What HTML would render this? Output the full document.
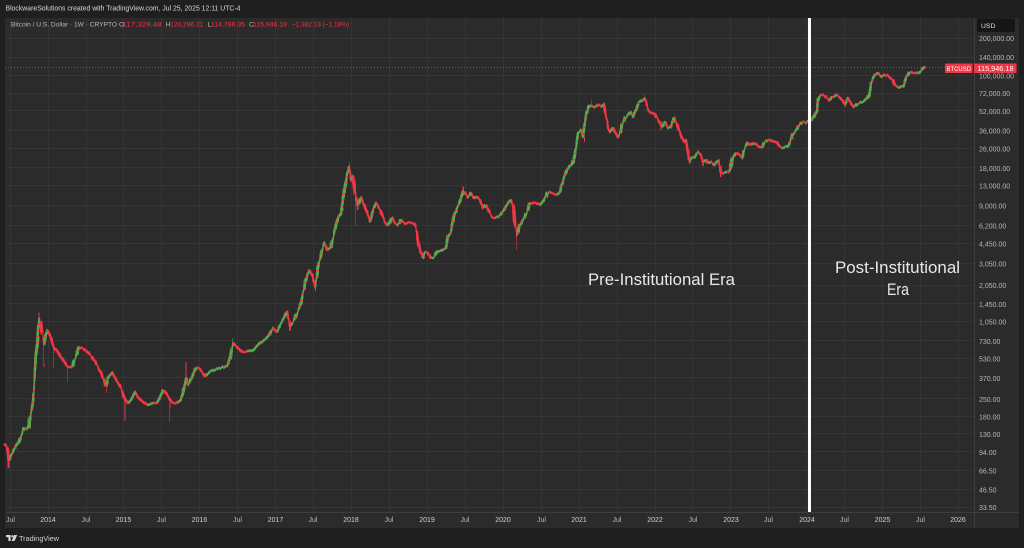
<!DOCTYPE html>
<html><head><meta charset="utf-8">
<style>
html,body{margin:0;padding:0;background:#1f1f1f;width:1024px;height:548px;overflow:hidden}
svg{display:block}
</style></head>
<body>
<svg width="1024" height="548" viewBox="0 0 1024 548" xmlns="http://www.w3.org/2000/svg" font-family="'Liberation Sans', sans-serif">
<defs>
<filter id="jag" filterUnits="userSpaceOnUse" x="0" y="0" width="1024" height="548">
<feTurbulence type="fractalNoise" baseFrequency="0.55 0.015" numOctaves="1" seed="3" result="n"/>
<feDisplacementMap in="SourceGraphic" in2="n" scale="3.5" xChannelSelector="R" yChannelSelector="G"/>
</filter>
</defs>
<rect width="1024" height="548" fill="#1f1f1f"/>
<rect x="5" y="18" width="1014" height="510" fill="#2b2b2b"/>
<g stroke="#353535" stroke-width="1">
<line x1="5" x2="974" y1="38.5" y2="38.5"/><line x1="5" x2="974" y1="57.5" y2="57.5"/><line x1="5" x2="974" y1="75.5" y2="75.5"/><line x1="5" x2="974" y1="93.5" y2="93.5"/><line x1="5" x2="974" y1="110.5" y2="110.5"/><line x1="5" x2="974" y1="130.5" y2="130.5"/><line x1="5" x2="974" y1="148.5" y2="148.5"/><line x1="5" x2="974" y1="167.5" y2="167.5"/><line x1="5" x2="974" y1="185.5" y2="185.5"/><line x1="5" x2="974" y1="205.5" y2="205.5"/><line x1="5" x2="974" y1="225.5" y2="225.5"/><line x1="5" x2="974" y1="243.5" y2="243.5"/><line x1="5" x2="974" y1="263.5" y2="263.5"/><line x1="5" x2="974" y1="285.5" y2="285.5"/><line x1="5" x2="974" y1="303.5" y2="303.5"/><line x1="5" x2="974" y1="321.5" y2="321.5"/><line x1="5" x2="974" y1="340.5" y2="340.5"/><line x1="5" x2="974" y1="358.5" y2="358.5"/><line x1="5" x2="974" y1="377.5" y2="377.5"/><line x1="5" x2="974" y1="398.5" y2="398.5"/><line x1="5" x2="974" y1="416.5" y2="416.5"/><line x1="5" x2="974" y1="433.5" y2="433.5"/><line x1="5" x2="974" y1="451.5" y2="451.5"/><line x1="5" x2="974" y1="470.5" y2="470.5"/><line x1="5" x2="974" y1="489.5" y2="489.5"/><line x1="5" x2="974" y1="507.5" y2="507.5"/>
<line y1="18" y2="512" x1="10.5" x2="10.5"/><line y1="18" y2="512" x1="48.5" x2="48.5"/><line y1="18" y2="512" x1="86.5" x2="86.5"/><line y1="18" y2="512" x1="123.5" x2="123.5"/><line y1="18" y2="512" x1="161.5" x2="161.5"/><line y1="18" y2="512" x1="199.5" x2="199.5"/><line y1="18" y2="512" x1="237.5" x2="237.5"/><line y1="18" y2="512" x1="275.5" x2="275.5"/><line y1="18" y2="512" x1="313.5" x2="313.5"/><line y1="18" y2="512" x1="351.5" x2="351.5"/><line y1="18" y2="512" x1="389.5" x2="389.5"/><line y1="18" y2="512" x1="427.5" x2="427.5"/><line y1="18" y2="512" x1="465.5" x2="465.5"/><line y1="18" y2="512" x1="503.5" x2="503.5"/><line y1="18" y2="512" x1="541.5" x2="541.5"/><line y1="18" y2="512" x1="579.5" x2="579.5"/><line y1="18" y2="512" x1="617.5" x2="617.5"/><line y1="18" y2="512" x1="655.5" x2="655.5"/><line y1="18" y2="512" x1="692.5" x2="692.5"/><line y1="18" y2="512" x1="730.5" x2="730.5"/><line y1="18" y2="512" x1="768.5" x2="768.5"/><line y1="18" y2="512" x1="806.5" x2="806.5"/><line y1="18" y2="512" x1="844.5" x2="844.5"/><line y1="18" y2="512" x1="882.5" x2="882.5"/><line y1="18" y2="512" x1="920.5" x2="920.5"/><line y1="18" y2="512" x1="958.5" x2="958.5"/>
</g>
<line x1="974.5" y1="18" x2="974.5" y2="528" stroke="#3d3d3d"/>
<line x1="5" y1="512.5" x2="1019" y2="512.5" stroke="#3d3d3d"/>
<line x1="5" y1="67.5" x2="974" y2="67.5" stroke="#f23645" stroke-width="1" stroke-dasharray="1 2" opacity="0.75"/>

<!-- price series -->
<g fill="none" stroke-linejoin="round" stroke-linecap="butt" filter="url(#jag)">
<path stroke="#f23645" stroke-width="1" d="M9 458V468M39 313V322M44 343V367M54 346V367M67 365V382M106 384V393M125 397V420M170 398V422M186 362V380M290 324V331M315 285V291M349 162V168M355 190V227M463 186V193M517 233V250M591 99V106M644 94V100M688 151V160M721 170V177M358 203V210M419 245V252M584 136V142M661 121V130M703 160V166"/>
<path stroke="#4caf50" stroke-width="1" d="M35 360V372M233 338V346M305 280V290M344 188V196M576 142V150M818 96V104M871 80V88"/>
<path id="base" stroke="#f23645" stroke-width="2.5" d="M5 444L7 447L9 460L11 455L13 452L16 446L19 442L21 437L24 428L27 430L29 427L31 413L33 402L34 388L35 368L37 347L38 330L39 318L41 325L42 330L44 345L47 330L50 335L54 348L57 350L60 355L64 362L67 367L72 367L76 357L79 347L84 349L89 353L93 358L97 365L101 372L104 380L106 386L108 377L112 373L115 378L118 383L121 388L125 399L128 403L131 400L135 392L138 397L143 402L147 405L153 403L157 403L160 397L163 390L166 393L170 400L173 403L177 403L181 400L184 389L186 378L188 385L192 377L195 368L199 368L205 376L210 372L220 368L228 366L231 355L233 343L237 347L242 352L247 352L253 350L260 343L267 338L273 328L277 332L280 325L283 320L287 312L290 326L293 322L297 313L301 303L305 283L309 270L312 275L315 287L318 268L321 253L324 243L327 250L331 247L335 230L338 218L341 213L344 193L347 172L349 166L351 180L353 176L355 192L358 205L361 197L364 205L367 213L370 222L373 210L376 203L380 210L385 222L388 225L392 217L395 223L398 225L401 220L405 223L410 223L415 225L417 233L419 247L421 253L423 258L425 252L428 253L431 258L434 257L437 252L442 250L446 248L448 236L451 233L454 217L457 208L460 202L463 191L465 193L468 197L471 193L474 198L477 197L480 200L483 208L486 205L489 212L492 217L495 218L498 217L502 213L505 208L508 203L511 200L513 205L515 220L517 235L520 225L523 220L527 212L530 203L533 203L537 203L540 205L544 200L548 192L552 193L557 195L560 192L565 175L569 167L573 163L576 147L578 133L581 130L583 137L585 120L588 107L591 105L594 107L598 105L601 107L604 105L606 115L608 127L610 132L613 128L615 132L618 137L620 133L622 125L625 118L628 115L631 112L633 117L636 110L639 102L642 100L644 98L646 102L648 110L651 113L654 113L657 118L660 123L662 127L665 122L668 128L671 127L674 118L676 122L679 130L682 138L684 142L686 140L688 153L690 162L692 158L695 157L698 152L701 155L703 162L706 160L708 163L711 162L714 165L716 162L719 160L721 172L724 173L727 172L730 172L733 157L736 153L739 155L742 158L745 148L748 143L751 145L754 143L757 145L759 147L762 148L765 142L768 140L771 140L774 142L777 142L779 146L782 148L785 147L788 146L790 142L792 135L795 132L798 127L801 123L803 122L806 123L809 121L812 120L815 115L817 110L818 99L820 95L823 95L826 97L829 100L831 97L834 97L836 95L839 97L842 100L845 105L848 98L851 103L854 107L857 104L860 103L863 102L866 100L869 96L871 84L873 78L875 75L878 73L881 77L884 75L887 75L890 78L893 80L895 86L898 87L901 87L904 86L906 78L909 73L912 72L915 73L918 73L920 72L923 68L925 67"/>
<path id="up" stroke="#4caf50" stroke-width="2.5" d="M9 460L11 455L13 452L16 446L19 442L21 437L24 428M27 430L29 427L31 413L33 402L34 388L35 368L37 347L38 330L39 318M44 345L47 330M72 367L76 357L79 347M106 386L108 377L112 373M128 403L131 400L135 392M147 405L153 403M157 403L160 397L163 390M177 403L181 400L184 389L186 378M188 385L192 377L195 368M205 376L210 372L220 368L228 366L231 355L233 343M247 352L253 350L260 343L267 338L273 328M277 332L280 325L283 320L287 312M290 326L293 322L297 313L301 303L305 283L309 270M315 287L318 268L321 253L324 243M327 250L331 247L335 230L338 218L341 213L344 193L347 172L349 166M351 180L353 176M358 205L361 197M370 222L373 210L376 203M388 225L392 217M398 225L401 220M423 258L425 252M431 258L434 257L437 252L442 250L446 248L448 236L451 233L454 217L457 208L460 202L463 191M468 197L471 193M474 198L477 197M483 208L486 205M495 218L498 217L502 213L505 208L508 203L511 200M517 235L520 225L523 220L527 212L530 203M540 205L544 200L548 192M557 195L560 192L565 175L569 167L573 163L576 147L578 133L581 130M583 137L585 120L588 107L591 105M594 107L598 105M601 107L604 105M610 132L613 128M618 137L620 133L622 125L625 118L628 115L631 112M633 117L636 110L639 102L642 100L644 98M662 127L665 122M668 128L671 127L674 118M684 142L686 140M690 162L692 158L695 157L698 152M703 162L706 160M708 163L711 162M714 165L716 162L719 160M724 173L727 172M730 172L733 157L736 153M742 158L745 148L748 143M751 145L754 143M762 148L765 142L768 140M782 148L785 147L788 146L790 142L792 135L795 132L798 127L801 123L803 122M806 123L809 121L812 120L815 115L817 110L818 99L820 95M829 100L831 97M834 97L836 95M845 105L848 98M854 107L857 104L860 103L863 102L866 100L869 96L871 84L873 78L875 75L878 73M881 77L884 75M898 87L901 87L904 86L906 78L909 73L912 72M918 73L920 72L923 68L925 66.5"/>
<use href="#base" stroke="#4caf50" stroke-width="2.5" stroke-dasharray="1.3 4.7" fill="none"/>
<use href="#up" stroke="#f23645" stroke-width="2.5" stroke-dasharray="1.2 5.3" stroke-dashoffset="2" fill="none"/>
</g>
<path stroke="#f23645" stroke-width="1.6" fill="none" d="M925 66V68.5"/>

<rect x="808" y="18" width="3" height="494" fill="#ffffff"/>

<!-- header -->
<text x="5.5" y="10.5" font-size="7" fill="#d8d8d8" textLength="235" lengthAdjust="spacingAndGlyphs">BlockwareSolutions created with TradingView.com, Jul 25, 2025 12:11 UTC-4</text>
<g font-size="6.8">
<text x="11" y="26.5" fill="#b8b8b8" textLength="106" lengthAdjust="spacingAndGlyphs">Bitcoin / U.S. Dollar · 1W · CRYPTO</text>
<text x="119" y="26.5" fill="#b8b8b8">O</text>
<text x="122.5" y="26.5" fill="#f23645" textLength="39" lengthAdjust="spacingAndGlyphs">117,329.48</text>
<text x="165.5" y="26.5" fill="#b8b8b8">H</text>
<text x="170" y="26.5" fill="#f23645" textLength="33.5" lengthAdjust="spacingAndGlyphs">120,296.21</text>
<text x="207.5" y="26.5" fill="#b8b8b8">L</text>
<text x="211" y="26.5" fill="#f23645" textLength="34" lengthAdjust="spacingAndGlyphs">114,786.35</text>
<text x="249" y="26.5" fill="#b8b8b8">C</text>
<text x="253" y="26.5" fill="#f23645" textLength="34" lengthAdjust="spacingAndGlyphs">115,946.18</text>
<text x="292" y="26.5" fill="#f23645" textLength="57" lengthAdjust="spacingAndGlyphs">−1,382.13 (−1.18%)</text>
</g>

<!-- annotations -->
<text x="588" y="285" font-size="16.5" fill="#e8e8e8" textLength="147" lengthAdjust="spacingAndGlyphs">Pre-Institutional Era</text>
<text x="835" y="273" font-size="16.5" fill="#e8e8e8" textLength="125" lengthAdjust="spacingAndGlyphs">Post-Institutional</text>
<text x="887" y="295" font-size="16.5" fill="#e8e8e8" textLength="22" lengthAdjust="spacingAndGlyphs">Era</text>

<!-- right axis -->
<g font-size="7" fill="#b8b8b8">
<text x="979" y="41">200,000.00</text>
<text x="979" y="60">140,000.00</text>
<text x="979" y="78.5">100,000.00</text>
<text x="979" y="96">72,000.00</text>
<text x="979" y="114">52,000.00</text>
<text x="979" y="133.5">36,000.00</text>
<text x="979" y="151.5">26,000.00</text>
<text x="979" y="171">18,000.00</text>
<text x="979" y="188.5">13,000.00</text>
<text x="979" y="208.5">9,000.00</text>
<text x="979" y="228.5">6,200.00</text>
<text x="979" y="246.5">4,450.00</text>
<text x="979" y="266.5">3,050.00</text>
<text x="979" y="288">2,050.00</text>
<text x="979" y="307">1,450.00</text>
<text x="979" y="324.5">1,050.00</text>
<text x="979" y="344">730.00</text>
<text x="979" y="361.5">530.00</text>
<text x="979" y="381">370.00</text>
<text x="979" y="402">250.00</text>
<text x="979" y="419.5">180.00</text>
<text x="979" y="437">130.00</text>
<text x="979" y="455">94.00</text>
<text x="979" y="473.5">66.50</text>
<text x="979" y="492.5">46.50</text>
<text x="979" y="510">33.50</text>
</g>
<rect x="977" y="18.5" width="38" height="13.5" rx="2" fill="#161616"/>
<text x="981" y="28" font-size="6.8" fill="#e0e0e0">USD</text>
<rect x="945" y="63.5" width="27.5" height="9.5" fill="#f23645"/>
<text x="946.5" y="71" font-size="6.6" fill="#ffffff" textLength="24.5" lengthAdjust="spacingAndGlyphs">BTCUSD</text>
<rect x="974" y="63.5" width="42.5" height="9.5" fill="#f23645"/>
<text x="977.5" y="71" font-size="7" fill="#ffffff" textLength="36" lengthAdjust="spacingAndGlyphs">115,946.18</text>

<!-- bottom axis -->
<svg x="5" y="512" width="969" height="16" overflow="hidden">
<g font-size="7" text-anchor="middle" transform="translate(-5,-512)">
<text x="10.5" y="522" fill="#b8b8b8">Jul</text>
<text x="48" y="522" fill="#d0d0d0">2014</text>
<text x="86" y="522" fill="#b8b8b8">Jul</text>
<text x="123.5" y="522" fill="#d0d0d0">2015</text>
<text x="161.5" y="522" fill="#b8b8b8">Jul</text>
<text x="199.5" y="522" fill="#d0d0d0">2016</text>
<text x="237.5" y="522" fill="#b8b8b8">Jul</text>
<text x="275.5" y="522" fill="#d0d0d0">2017</text>
<text x="313" y="522" fill="#b8b8b8">Jul</text>
<text x="351" y="522" fill="#d0d0d0">2018</text>
<text x="389" y="522" fill="#b8b8b8">Jul</text>
<text x="427" y="522" fill="#d0d0d0">2019</text>
<text x="465" y="522" fill="#b8b8b8">Jul</text>
<text x="503" y="522" fill="#d0d0d0">2020</text>
<text x="541.5" y="522" fill="#b8b8b8">Jul</text>
<text x="579" y="522" fill="#d0d0d0">2021</text>
<text x="617" y="522" fill="#b8b8b8">Jul</text>
<text x="655" y="522" fill="#d0d0d0">2022</text>
<text x="693" y="522" fill="#b8b8b8">Jul</text>
<text x="731" y="522" fill="#d0d0d0">2023</text>
<text x="768.5" y="522" fill="#b8b8b8">Jul</text>
<text x="807" y="522" fill="#d0d0d0">2024</text>
<text x="844.5" y="522" fill="#b8b8b8">Jul</text>
<text x="882.5" y="522" fill="#d0d0d0">2025</text>
<text x="920.5" y="522" fill="#b8b8b8">Jul</text>
<text x="958" y="522" fill="#d0d0d0">2026</text>
</g>
</svg>

<!-- bottom bar -->
<rect x="0" y="528" width="1024" height="20" fill="#1f1f1f"/>
<g fill="#d8d8d8">
<path d="M6 535h4.6v6h-2.2v-3.9H6z"/>
<circle cx="12.3" cy="536.2" r="1.1"/>
<path d="M14.2 535h3l-2.7 6h-3z"/>
</g>
<text x="19" y="541" font-size="7.5" fill="#d0d0d0" textLength="40" lengthAdjust="spacingAndGlyphs">TradingView</text>
</svg>
</body></html>
